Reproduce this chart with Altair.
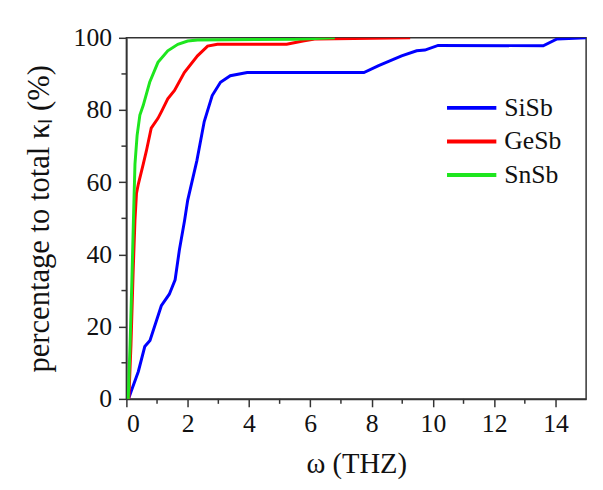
import altair as alt
import pandas as pd

series_names = ["SiSb", "GeSb", "SnSb"]
series_colors = ["#0000ff", "#ff0000", "#1ee61e"]

sisb_x = [0.07, 0.16, 0.39, 0.6, 0.77, 1.14, 1.4, 1.59, 1.73, 1.9, 2.0, 2.3, 2.54, 2.8, 3.07, 3.39, 3.94, 7.75, 8.23, 8.98, 9.47, 9.74, 10.17, 13.6, 14.05, 15.0]
sisb_y = [0, 2.2, 7.6, 14.5, 16.2, 25.8, 29, 33, 41.3, 49.5, 55, 66, 76.8, 84, 87.7, 89.5, 90.4, 90.4, 92.3, 95, 96.4, 96.6, 97.9, 97.8, 99.7, 100]

gesb_x = [0.08, 0.15, 0.22, 0.28, 0.33, 0.39, 0.55, 0.65, 0.81, 1.03, 1.14, 1.35, 1.57, 1.89, 2.32, 2.65, 2.97, 5.23, 5.76, 6.19, 9.26]
gesb_y = [0, 15, 35, 49.5, 57, 59.5, 65, 68.6, 75, 77.7, 79.5, 83.1, 85.4, 90.4, 95, 97.7, 98.2, 98.2, 99.1, 99.7, 100]

snsb_x = [0.06, 0.12, 0.18, 0.23, 0.28, 0.35, 0.44, 0.55, 0.76, 1.03, 1.35, 1.68, 2.0, 2.32, 5.5, 6.8]
snsb_y = [0, 15, 33, 49.5, 65, 73, 78.6, 81.3, 87.7, 93.2, 96.4, 98.2, 99.1, 99.4, 99.6, 100]

x_major = [0, 2, 4, 6, 8, 10, 12, 14]
x_minor = [1, 3, 5, 7, 9, 11, 13]
y_major = [0, 20, 40, 60, 80, 100]
y_minor = [10, 30, 50, 70, 90]

W, H = 466, 366
FONT = "Liberation Serif"

def frame(name, xs, ys):
    return pd.DataFrame({"w": xs, "p": ys, "s": name})

x_scale = alt.Scale(domain=[0, 15], nice=False, zero=False)
y_scale = alt.Scale(domain=[0, 100], nice=False)
color_scale = alt.Scale(domain=series_names, range=series_colors)

x_enc = alt.X("w:Q", scale=x_scale, title="ω (THZ)",
              axis=alt.Axis(values=x_major, tickSize=8, labelPadding=4, titlePadding=14))
y_enc = alt.Y("p:Q", scale=y_scale, title="percentage to total κₗ (%)",
              axis=alt.Axis(values=y_major, tickSize=8, labelPadding=7, titlePadding=18))
legend = alt.Legend(title=None, orient="none", legendX=323, legendY=54,
                    symbolType="stroke", symbolSize=2500, symbolStrokeWidth=4,
                    labelFontSize=26, labelFont=FONT, labelColor="#111",
                    clipHeight=34, rowPadding=0, labelOffset=6, symbolOffset=0)

layers = []
for name, xs, ys in [("SiSb", sisb_x, sisb_y), ("GeSb", gesb_x, gesb_y), ("SnSb", snsb_x, snsb_y)]:
    layers.append(
        alt.Chart(frame(name, xs, ys)).mark_line(strokeWidth=3, clip=True).encode(
            x=x_enc, y=y_enc,
            color=alt.Color("s:N", scale=color_scale, legend=legend),
        )
    )

xminor = alt.Chart(pd.DataFrame({"w": x_minor})).mark_rule(color="#333", strokeWidth=1.5).encode(
    x=alt.X("w:Q", scale=x_scale), y=alt.value(H), y2=alt.value(H + 5))
yminor = alt.Chart(pd.DataFrame({"p": y_minor})).mark_rule(color="#333", strokeWidth=1.5).encode(
    y=alt.Y("p:Q", scale=y_scale), x=alt.value(0), x2=alt.value(-5))

chart = alt.layer(*layers, xminor, yminor).properties(
    width=W, height=H,
    background="white",
    autosize=alt.AutoSizeParams(type="none"),
    padding={"left": 120, "top": 27, "right": 9, "bottom": 80},
).configure_view(
    stroke="#333", strokeWidth=1.5
).configure_axis(
    grid=False, domainColor="#333", domainWidth=1.5, tickColor="#333", tickWidth=1.5,
    labelFont=FONT, labelFontSize=26, labelColor="#111",
    titleFont=FONT, titleFontSize=29, titleColor="#111", titleFontWeight="normal",
).configure_axisY(
    titleFontSize=31
).configure_legend(
    labelFont=FONT, labelFontSize=26, labelColor="#111"
)

chart.save("out.html", embed_options={"renderer": "svg", "actions": False})
